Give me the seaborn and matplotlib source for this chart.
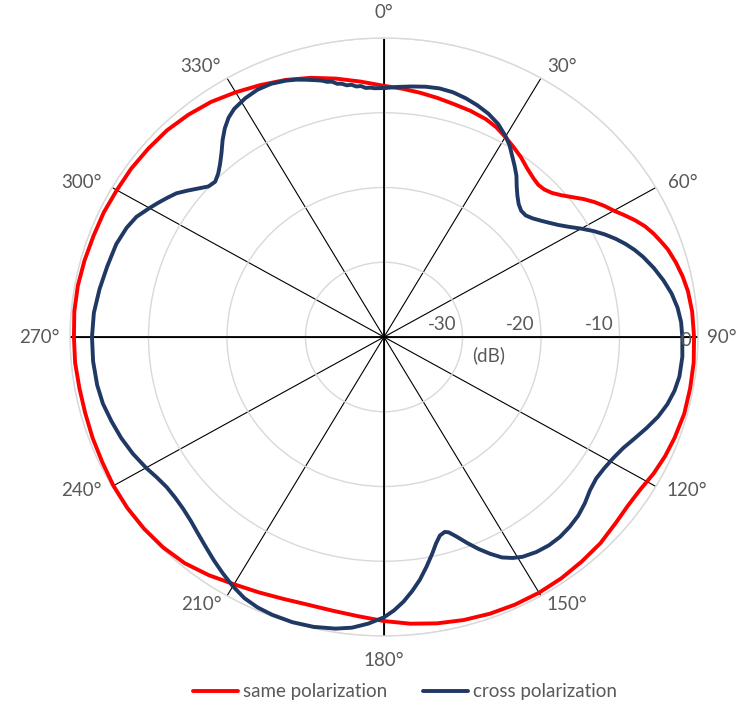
import numpy as np
import pandas as pd
import seaborn as sns
import matplotlib
matplotlib.use("Agg")
import matplotlib.pyplot as plt

# ---- radiation pattern data (angle in degrees, level in dB) ----
same_angle = [0, 4, 8, 12, 16, 20, 24, 27, 30, 33, 36, 39, 42, 44, 46, 48, 50,
              52, 54, 56, 58, 60, 62, 64, 66, 68, 70, 72, 75, 78, 81, 85, 90,
              95, 100, 105, 110, 114, 118, 122, 126, 130, 135, 140, 145, 150,
              155, 160, 165, 170, 175, 180, 185, 190, 195, 200, 205, 210, 215,
              220, 225, 230, 235, 240, 245, 250, 255, 260, 265, 270, 275, 280,
              285, 290, 295, 300, 305, 310, 315, 320, 325, 330, 335, 340, 345,
              350, 355, 360]
same_db = [-6.4, -6.7, -7.0, -7.3, -7.6, -7.8, -8.1, -8.5, -9.1, -9.7, -10.3,
           -11.0, -11.5, -11.7, -11.6, -11.2, -10.5, -9.6, -8.6, -7.7, -6.9,
           -6.2, -5.3, -4.4, -3.6, -3.0, -2.5, -2.0, -1.5, -1.1, -0.8, -0.6,
           -0.5, -0.4, -0.4, -0.4, -0.6, -0.8, -1.1, -1.5, -1.6, -1.4, -1.0,
           -0.8, -0.6, -0.5, -0.5, -0.6, -0.8, -1.1, -1.5, -2.0, -2.5, -2.8,
           -2.9, -2.7, -2.3, -1.8, -1.1, -0.5, -0.2, -0.1, -0.1, -0.2, -0.4,
           -0.5, -0.6, -0.6, -0.5, -0.5, -0.4, -0.4, -0.5, -0.6, -0.6, -0.7,
           -0.7, -0.8, -0.9, -1.2, -1.6, -2.2, -2.8, -3.4, -4.1, -4.9, -5.7,
           -6.4]

cross_angle = [0, 3, 6, 9, 12, 15, 18, 21, 24, 27, 30, 32, 34, 36, 38, 40, 42,
               44, 46, 48, 50, 52, 54, 56, 58, 60, 62, 64, 66, 68, 70, 72, 75,
               78, 81, 84, 87, 90, 94, 98, 101, 104, 107, 110, 113, 116, 119,
               122, 125, 128, 131, 134, 137, 140, 143, 146, 149, 151, 153, 155,
               157, 159, 161, 162.5, 163.5, 165, 166.5, 168, 170, 172, 174, 176,
               178, 180, 183, 186, 189, 193, 197, 201, 204, 207, 210, 213, 216,
               219, 222, 225, 228, 231, 234, 237, 240, 244, 248, 252, 256, 260,
               265, 270, 275, 280, 285, 290, 294, 297, 300, 302, 304, 306, 308,
               310, 312, 314, 316, 318, 320, 322, 324, 326, 328, 331, 334, 337,
               340, 342, 344, 346, 347, 348, 349, 350, 351, 352, 353, 354, 355,
               356, 357, 358, 360]
cross_db = [-6.7, -6.5, -6.3, -6.1, -6.0, -6.1, -6.4, -6.8, -7.3, -8.0, -9.0,
            -9.8, -10.8, -11.7, -12.6, -13.7, -14.6, -15.3, -15.7, -15.7, -15.3,
            -14.7, -14.0, -13.2, -12.2, -11.0, -9.8, -8.7, -7.7, -6.8, -6.0,
            -5.3, -4.4, -3.6, -2.9, -2.4, -2.1, -2.0, -1.9, -2.0, -2.3, -2.8,
            -3.5, -4.4, -5.3, -6.1, -6.6, -6.9, -7.0, -6.7, -6.1, -5.6, -5.3,
            -5.1, -5.1, -5.3, -5.7, -6.2, -6.9, -8.0, -9.2, -10.5, -11.8, -12.6,
            -12.8, -12.5, -11.6, -10.4, -8.8, -7.2, -5.8, -4.5, -3.4, -2.5,
            -1.6, -0.9, -0.5, -0.2, -0.1, -0.2, -0.4, -0.8, -1.5, -2.3, -3.1,
            -3.9, -4.6, -5.2, -5.6, -5.8, -5.8, -5.5, -5.0, -4.4, -3.9, -3.5,
            -3.1, -2.9, -2.8, -2.8, -2.9, -3.2, -3.5, -3.7, -4.1, -4.6, -5.5,
            -6.1, -6.7, -7.3, -8.2, -9.1, -9.9, -10.1, -9.6, -8.8, -7.8, -6.6,
            -5.5, -4.6, -4.0, -3.5, -3.2, -3.2, -3.5, -3.8, -4.2, -4.6, -4.8,
            -5.1, -5.2, -5.6, -5.7, -6.0, -6.0, -6.3, -6.3, -6.6, -6.6, -6.7,
            -6.7]

angle_ticks = list(range(0, 360, 30))
angle_labels = [f"{a}\u00b0" for a in angle_ticks]
ring_values = [-30, -20, -10, 0]
ring_labels = ["-30", "-20", "-10", "0"]
series_names = ["same polarization", "cross polarization"]
series_colors = ["#FF0000", "#203864"]

# ---- figure / axes layout (pixels) ----
W, H = 743, 704
sns.set_theme(style="white")
plt.rcParams["font.family"] = ["Lato", "DejaVu Sans"]
TXT = "#595959"
FS = 13.5

fig = plt.figure(figsize=(W / 100, H / 100), dpi=100)
fig.patch.set_facecolor("white")


def px(x, y):
    """pixel position (from top-left) -> figure fraction"""
    return x / W, 1 - y / H


ax_left, ax_top, ax_right, ax_bottom = 70, 38, 698, 636
ax = fig.add_axes([ax_left / W, 1 - ax_bottom / H,
                   (ax_right - ax_left) / W, (ax_bottom - ax_top) / H],
                  projection="polar")
ax.set_aspect("auto")
ax.set_facecolor("white")
ax.set_theta_zero_location("N")
ax.set_theta_direction(-1)
ax.set_ylim(-40, 0)
ax.set_yticks(ring_values)
ax.set_yticklabels([])
ax.set_xticks(np.deg2rad(angle_ticks))
ax.set_xticklabels([])
ax.tick_params(length=0)
ax.yaxis.grid(True, color="#D9D9D9", linewidth=1.0)
ax.xaxis.grid(True, color="black", linewidth=0.8)
ax.spines["polar"].set_color("#D9D9D9")
ax.spines["polar"].set_linewidth(1.0)

# heavier main axes
for a in (0, 90, 180, 270):
    t = np.deg2rad(a)
    ax.plot([t, t], [-40, 0], color="black", linewidth=1.3, zorder=2)

# ---- pattern curves ----
df_same = pd.DataFrame({"theta": np.deg2rad(same_angle), "db": same_db})
df_cross = pd.DataFrame({"theta": np.deg2rad(cross_angle), "db": cross_db})
for df, name, col, z in [(df_same, series_names[0], series_colors[0], 3),
                         (df_cross, series_names[1], series_colors[1], 4)]:
    sns.lineplot(data=df, x="theta", y="db", sort=False, estimator=None, ax=ax,
                 color=col, linewidth=2.8, label=name, zorder=z,
                 solid_joinstyle="round", solid_capstyle="round", clip_on=False)
ax.set_xlabel("")
ax.set_ylabel("")
handles, labels = ax.get_legend_handles_labels()
if ax.get_legend() is not None:
    ax.get_legend().remove()

# ---- angle labels ----
angle_label_pos = {0: (384, 12), 30: (562, 66), 60: (683, 183), 90: (722, 337),
                   120: (687, 491), 150: (567, 604), 180: (384, 660),
                   210: (201, 605), 240: (81, 491), 270: (39, 337),
                   300: (81, 182), 330: (200, 66)}
for a, lab in zip(angle_ticks, angle_labels):
    x, y = angle_label_pos[a]
    fig.text(*px(x, y), lab, ha="center", va="center", color=TXT, fontsize=FS)

# ---- ring labels ----
ring_label_pos = {-30: (442, 325), -20: (520, 325), -10: (599, 325), 0: (686, 340)}
for v, lab in zip(ring_values, ring_labels):
    x, y = ring_label_pos[v]
    fig.text(*px(x, y), lab, ha="center", va="center", color=TXT, fontsize=FS,
             zorder=10)
fig.text(*px(489, 355), "(dB)", ha="center", va="center", color=TXT, fontsize=FS)

# ---- legend ----
fig.legend(handles, labels, loc="center", bbox_to_anchor=(px(405, 692)),
           ncol=2, frameon=False, handlelength=2.4, handletextpad=0.27,
           columnspacing=1.9, fontsize=FS, labelcolor=TXT)

fig.savefig("out.png", dpi=100, facecolor="white")
